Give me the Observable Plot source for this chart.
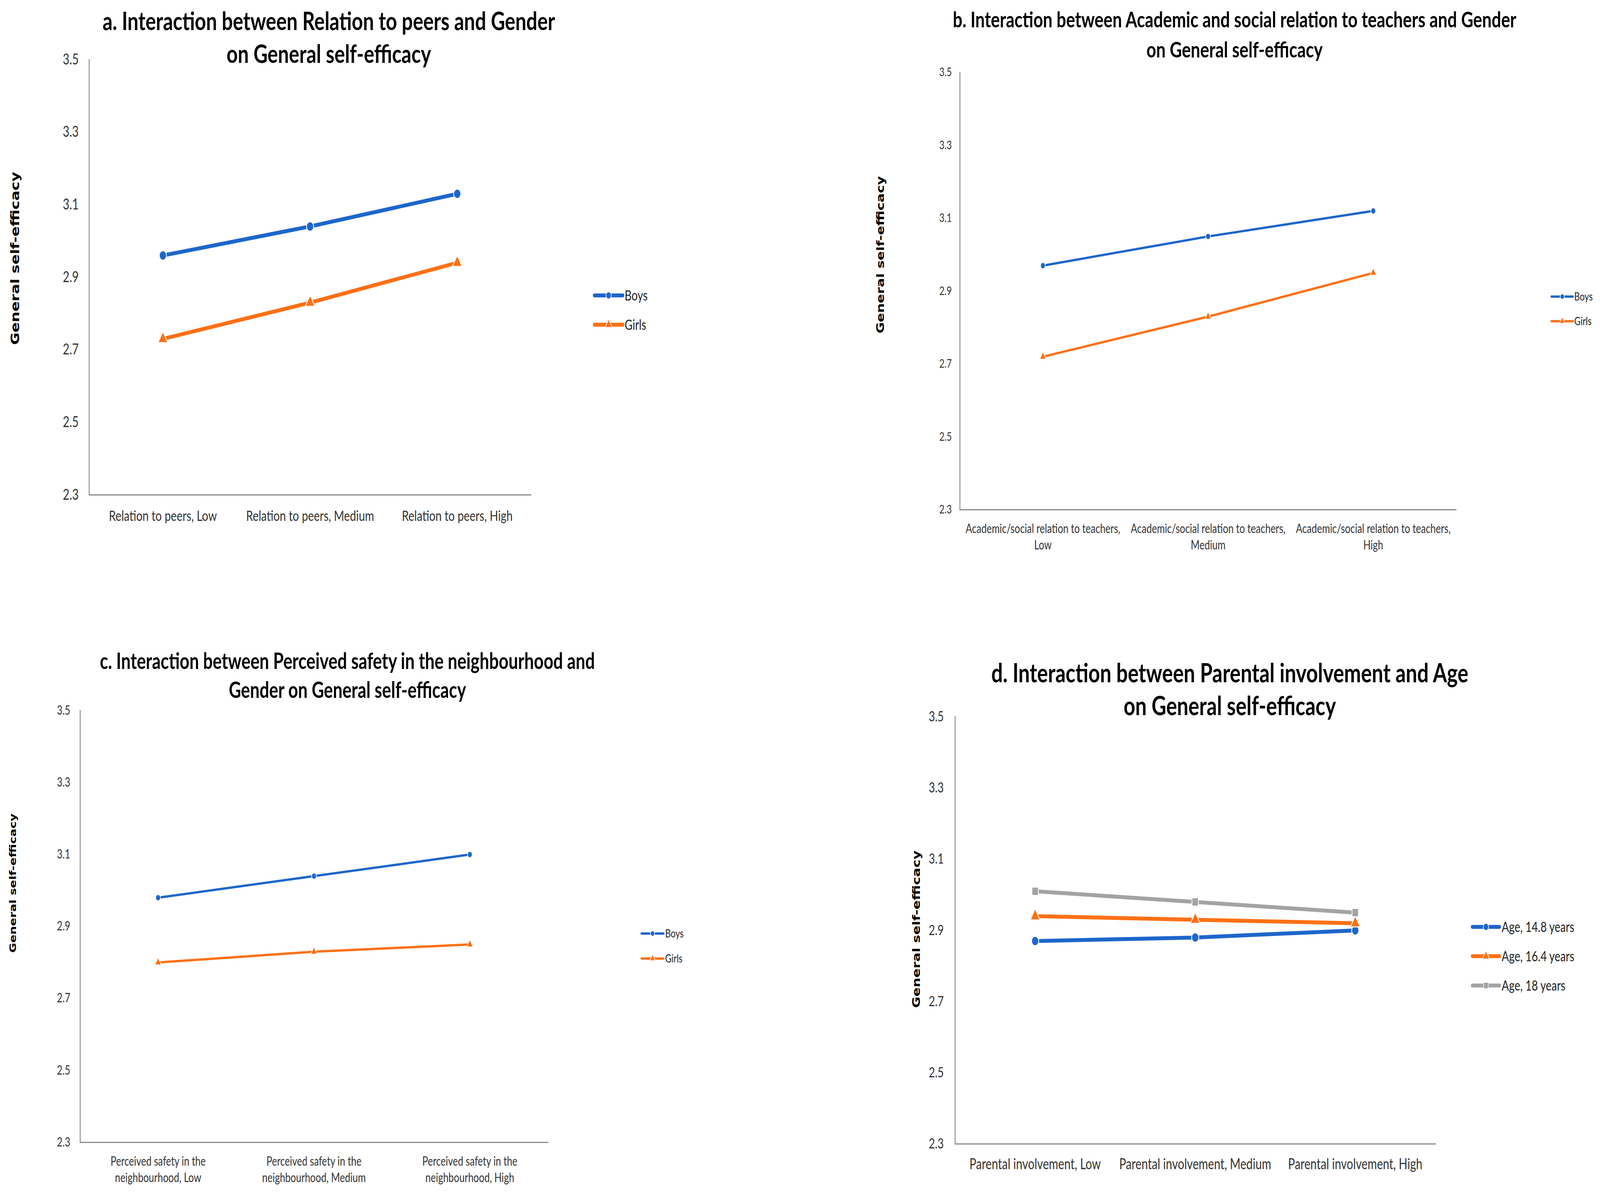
<!DOCTYPE html>
<html><head><meta charset="utf-8">
<script src="https://cdn.jsdelivr.net/npm/d3@7"></script>
<script src="https://cdn.jsdelivr.net/npm/@observablehq/plot@0.6"></script>
<style>
html,body{margin:0;padding:0;background:#fff;overflow:hidden;}
#page{position:absolute;left:0;top:0;width:5338px;height:3053px;overflow:hidden;background:#fff;transform-origin:0 0;}
.title{position:absolute;font-family:Lato,"Open Sans",sans-serif;font-weight:700;color:#000;text-align:center;white-space:nowrap;transform:translateX(-50%);}
.ylab{position:absolute;font-family:"DejaVu Sans",Verdana,sans-serif;font-weight:700;color:#000;white-space:nowrap;transform:translate(-50%,-50%) rotate(-90deg);}
</style></head><body><div id="page"></div>
<script>
// ---------- data ----------
const yTicks = [2.3, 2.5, 2.7, 2.9, 3.1, 3.3, 3.5];
const yLabel = "General self-efficacy";
const gender = ["Boys", "Girls"];
const ages = ["Age, 14.8 years", "Age, 16.4 years", "Age, 18 years"];

const titleA = ["a. Interaction between Relation to peers and Gender", "on General self-efficacy"];
const catsA = ["Relation to peers, Low", "Relation to peers, Medium", "Relation to peers, High"];
const boysA = [2.96, 3.04, 3.13];
const girlsA = [2.73, 2.83, 2.94];

const titleB = ["b. Interaction between Academic and social relation to teachers and Gender", "on General self-efficacy"];
const catsB = ["Academic/social relation to teachers,\nLow", "Academic/social relation to teachers,\nMedium", "Academic/social relation to teachers,\nHigh"];
const boysB = [2.97, 3.05, 3.12];
const girlsB = [2.72, 2.83, 2.95];

const titleC = ["c. Interaction between Perceived safety in the neighbourhood and", "Gender on General self-efficacy"];
const catsC = ["Perceived safety in the\nneighbourhood, Low", "Perceived safety in the\nneighbourhood, Medium", "Perceived safety in the\nneighbourhood, High"];
const boysC = [2.98, 3.04, 3.10];
const girlsC = [2.80, 2.83, 2.85];

const titleD = ["d. Interaction between Parental involvement and Age", "on General self-efficacy"];
const catsD = ["Parental involvement, Low", "Parental involvement, Medium", "Parental involvement, High"];
const age148 = [2.87, 2.88, 2.90];
const age164 = [2.94, 2.93, 2.92];
const age18 = [3.01, 2.98, 2.95];

// ---------- styles ----------
const COLORS = ["#1d66cb", "#ff7015", "#a3a3a3"];
const SYMBOLS = ["circle", "triangle", "square"];
const FONT = "Lato, 'Open Sans', sans-serif";

const panels = [
  {title: titleA, cats: catsA, names: gender, values: [boysA, girlsA],
   x0: 297, x1: 1770, yTop: 152, yBot: 1266, tickFont: 38, yPad: 35, xFont: 37, xPad: 36, lh: 1.15,
   lw: 10, r: 12, msw: 2.5,
   tFont: 65, tLH: 84, tCx: 1097, tY: 52,
   yl: {x: 51, y: 661, font: 38.5},
   leg: {lx0: 1983, lx1: 2078, tx: 2084, ys: [756, 831], font: 36, lw: 10, r: 9}},
  {title: titleB, cats: catsB, names: gender, values: [boysB, girlsB],
   x0: 3202, x1: 4857, yTop: 185, yBot: 1304, tickFont: 30, yPad: 27, xFont: 32, xPad: 30, lh: 1.3,
   lw: 6, r: 8, msw: 2,
   tFont: 56, tLH: 77, tCx: 4119, tY: 48,
   yl: {x: 2937, y: 652, font: 35},
   leg: {lx0: 5176, lx1: 5248, tx: 5252, ys: [759, 822], font: 29, lw: 6, r: 7}},
  {title: titleC, cats: catsC, names: gender, values: [boysC, girlsC],
   x0: 267, x1: 1827, yTop: 1818, yBot: 2923, tickFont: 32, yPad: 33, xFont: 32, xPad: 30, lh: 1.3,
   lw: 6, r: 8, msw: 2,
   tFont: 56.5, tLH: 74, tCx: 1159, tY: 1690,
   yl: {x: 42, y: 2260, font: 31},
   leg: {lx0: 2140, lx1: 2214, tx: 2219, ys: [2389, 2453], font: 29, lw: 6, r: 7}},
  {title: titleD, cats: catsD, names: ages, values: [age148, age164, age18],
   x0: 3186, x1: 4788, yTop: 1834, yBot: 2927, tickFont: 36, yPad: 38, xFont: 38, xPad: 33, lh: 1.15,
   lw: 10, r: 12, msw: 2.5,
   tFont: 67.5, tLH: 84, tCx: 4103, tY: 1720,
   yl: {x: 3057, y: 2378, font: 35},
   leg: {lx0: 4912, lx1: 5003, tx: 5010, ys: [2372, 2447, 2522], font: 36, lw: 10, r: 9}}
];

const page = document.getElementById("page");
// the window may be narrower than the 5338px layout: compress horizontally to fit
const sx = Math.min(1, window.innerWidth / 5338);
const sy = Math.min(1, window.innerHeight / 3053);
page.style.transform = `scale(${sx},${sy})`;

for (const p of panels) {
  const rows = p.names.flatMap((n, si) => p.cats.map((c, i) => ({cat: c, value: p.values[si][i], series: n})));
  const ml = 220, mr = 30, mt = 30, mb = 170;
  const chart = Plot.plot({
    width: p.x1 - p.x0 + ml + mr,
    height: p.yBot - p.yTop + mt + mb,
    marginLeft: ml, marginRight: mr, marginTop: mt, marginBottom: mb,
    style: {fontFamily: FONT, background: "transparent", overflow: "visible", color: "#333"},
    x: {type: "point", domain: p.cats, padding: 0.5},
    y: {domain: [2.3, 3.5]},
    color: {domain: p.names, range: COLORS.slice(0, p.names.length)},
    symbol: {domain: p.names, range: SYMBOLS.slice(0, p.names.length)},
    marks: [
      Plot.axisY({ticks: yTicks, tickSize: 0, tickPadding: p.yPad, tickFormat: d3.format(".1f"), fontSize: p.tickFont, label: null, fill: "#333"}),
      Plot.axisX({tickSize: 0, tickPadding: p.xPad, fontSize: p.xFont, label: null, lineAnchor: "top", lineHeight: p.lh, fill: "#333"}),
      Plot.frame({anchor: "left", stroke: "#8a8a8a", strokeWidth: 3}),
      Plot.frame({anchor: "bottom", stroke: "#8a8a8a", strokeWidth: 3}),
      Plot.line(rows, {x: "cat", y: "value", z: "series", stroke: "series", strokeWidth: p.lw, strokeLinecap: "round"}),
      Plot.dot(rows, {x: "cat", y: "value", symbol: "series", fill: "series", stroke: "white", strokeWidth: p.msw, r: p.r})
    ]
  });
  chart.style.position = "absolute";
  chart.style.left = (p.x0 - ml) + "px";
  chart.style.top = (p.yTop - mt) + "px";
  page.appendChild(chart);

  const t = document.createElement("div");
  t.className = "title";
  t.style.left = p.tCx + "px";
  t.style.top = (p.tY - p.tLH / 2) + "px";
  t.style.fontSize = p.tFont + "px";
  t.style.lineHeight = p.tLH + "px";
  t.innerHTML = p.title.join("<br>");
  page.appendChild(t);

  const yl = document.createElement("div");
  yl.className = "ylab";
  yl.style.left = p.yl.x + "px";
  yl.style.top = p.yl.y + "px";
  yl.style.fontSize = p.yl.font + "px";
  yl.textContent = yLabel;
  page.appendChild(yl);
}

const leg = d3.select(page).append("svg")
  .attr("width", 5338).attr("height", 3053)
  .style("position", "absolute").style("left", 0).style("top", 0).style("overflow", "visible");
for (const p of panels) {
  const L = p.leg;
  p.names.forEach((n, i) => {
    const y = L.ys[i];
    const g = leg.append("g");
    g.append("line").attr("x1", L.lx0).attr("x2", L.lx1).attr("y1", y).attr("y2", y)
      .attr("stroke", COLORS[i]).attr("stroke-width", L.lw).attr("stroke-linecap", "round");
    const sym = [d3.symbolCircle, d3.symbolTriangle, d3.symbolSquare][i];
    g.append("path").attr("d", d3.symbol(sym, L.r * L.r * Math.PI)())
      .attr("transform", `translate(${(L.lx0 + L.lx1) / 2},${y})`)
      .attr("fill", COLORS[i]).attr("stroke", "white").attr("stroke-width", 2);
    g.append("text").attr("x", L.tx).attr("y", y).attr("dy", "0.35em")
      .attr("font-family", FONT).attr("font-size", L.font).attr("fill", "#222").text(n);
  });
}
</script></body></html>
